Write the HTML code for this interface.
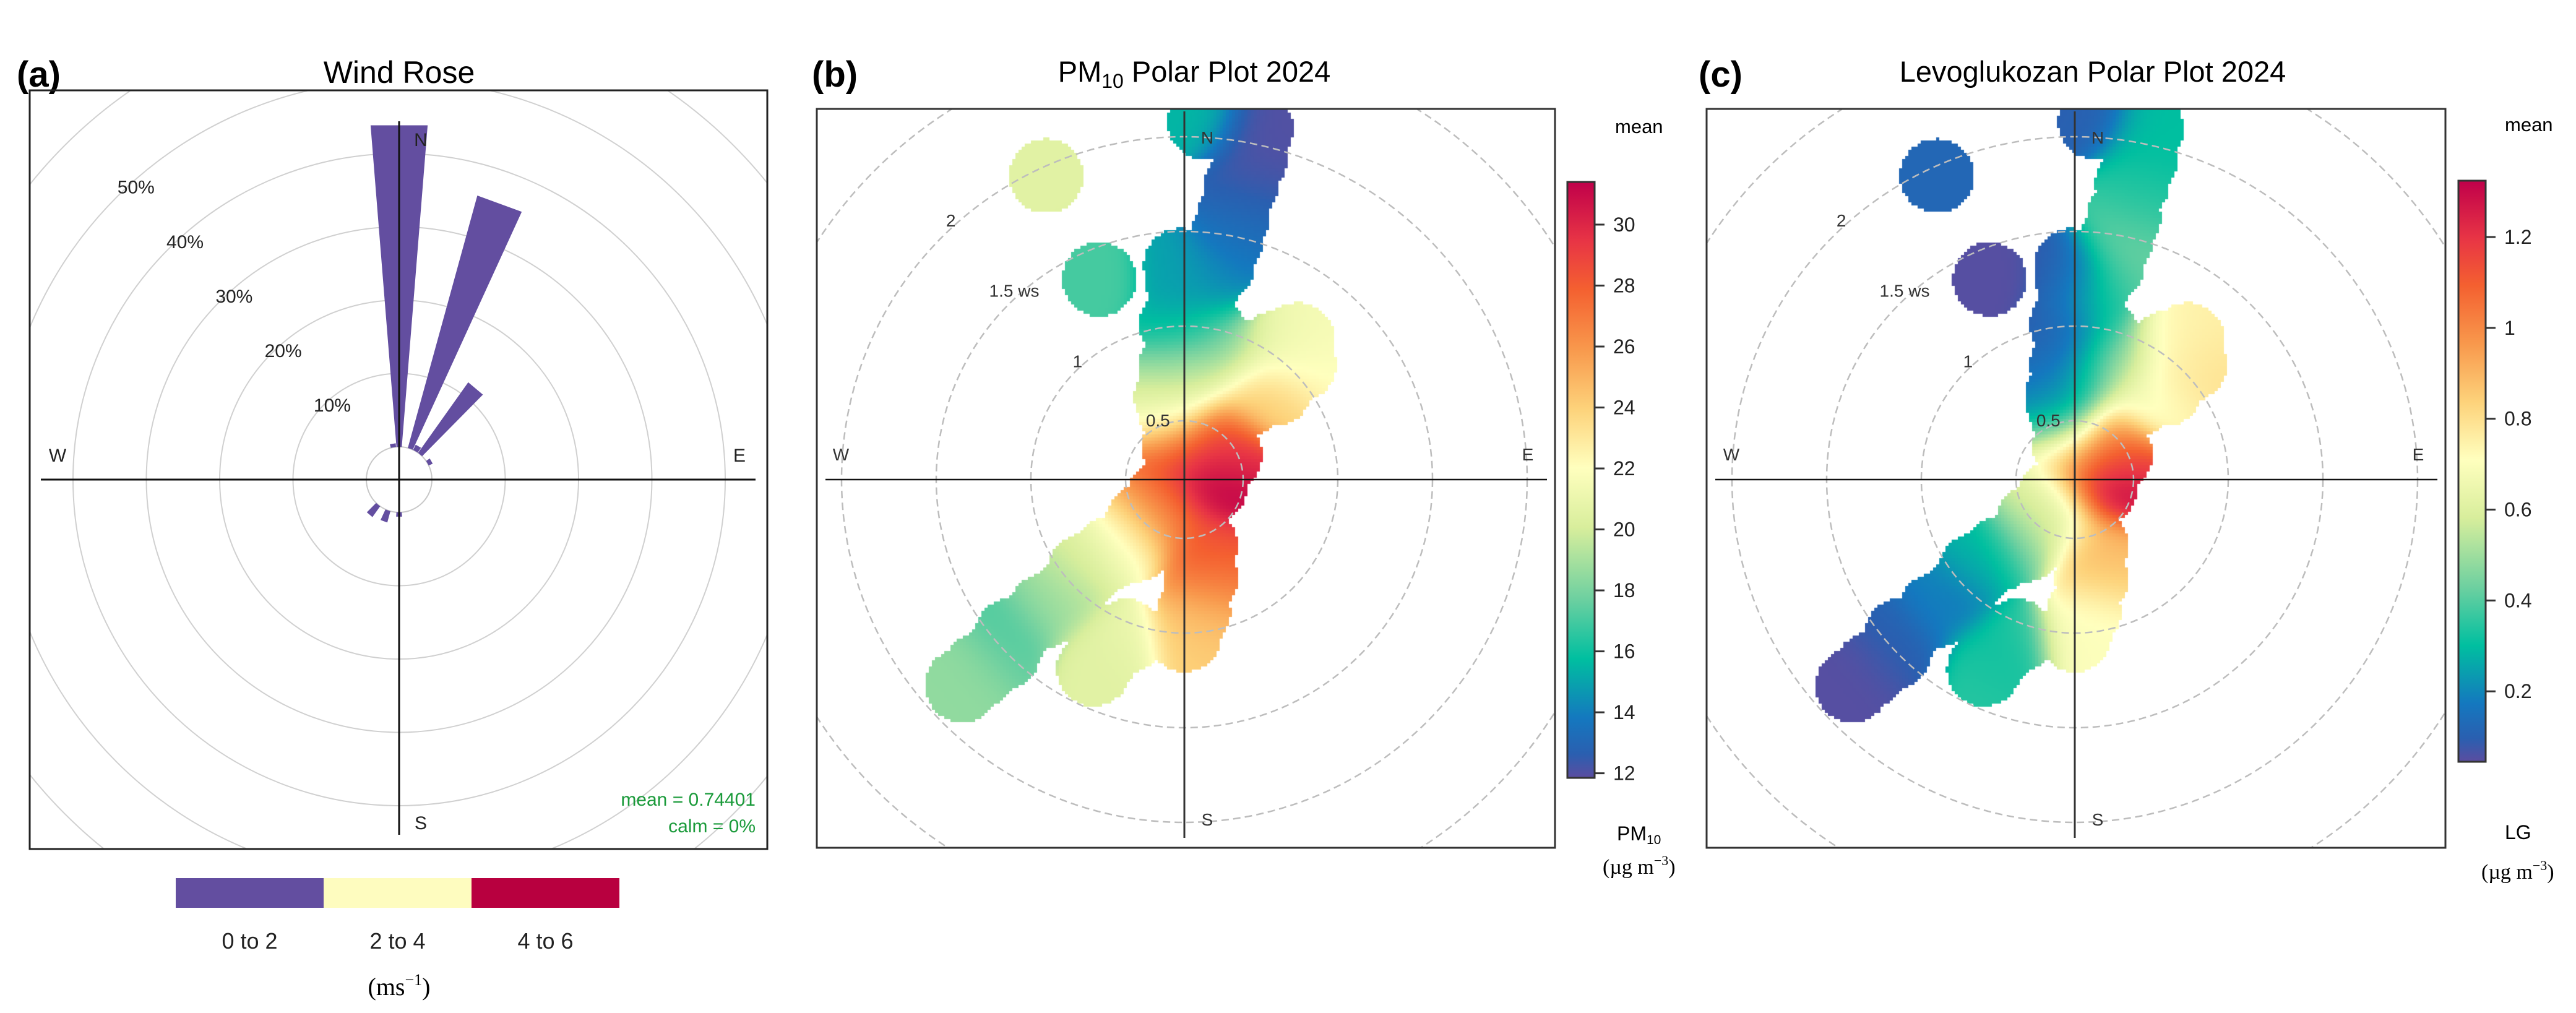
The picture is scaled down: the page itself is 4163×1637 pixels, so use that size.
<!DOCTYPE html>
<html><head><meta charset="utf-8">
<style>
html,body{margin:0;padding:0;background:#fff;}
#root{position:relative;width:4163px;height:1637px;overflow:hidden;background:#fff;font-family:"Liberation Sans",sans-serif;}
canvas{position:absolute;left:0;top:0;}
svg{position:absolute;left:0;top:0;}
</style></head>
<body>
<div id="root">
<canvas id="heat" width="4163" height="1637"></canvas>
<svg id="svg" width="4163" height="1637" xmlns="http://www.w3.org/2000/svg">
<defs>
<linearGradient id="gradB" x1="0" y1="1" x2="0" y2="0"></linearGradient>
<linearGradient id="gradC" x1="0" y1="1" x2="0" y2="0"></linearGradient>
<clipPath id="clipA"><rect x="48" y="146" width="1192" height="1226"/></clipPath>
<clipPath id="clipB"><rect x="1320" y="176" width="1193" height="1194"/></clipPath>
<clipPath id="clipC"><rect x="2758" y="176" width="1194" height="1194"/></clipPath>
</defs>
<text x="27" y="140" font-size="58" font-weight="bold">(a)</text>
<text x="645" y="134" font-size="50" text-anchor="middle">Wind Rose</text>
<text x="1312" y="140" font-size="58" font-weight="bold">(b)</text>
<text x="1930" y="132" font-size="47" text-anchor="middle">PM<tspan font-size="32" dy="10">10</tspan><tspan dy="-10"> Polar Plot 2024</tspan></text>
<text x="2745" y="140" font-size="58" font-weight="bold">(c)</text>
<text x="3382" y="132" font-size="47" text-anchor="middle">Levoglukozan Polar Plot 2024</text>

<g id="gA" clip-path="url(#clipA)"></g>
<rect x="48" y="146" width="1192" height="1226" fill="none" stroke="#222" stroke-width="3"/>
<g id="gB" clip-path="url(#clipB)"></g>
<rect x="1320" y="176" width="1193" height="1194" fill="none" stroke="#333" stroke-width="3"/>
<g id="gC" clip-path="url(#clipC)"></g>
<rect x="2758" y="176" width="1194" height="1194" fill="none" stroke="#333" stroke-width="3"/>

<text x="1221" y="1302" font-size="30" fill="#1a9a3a" text-anchor="end">mean = 0.74401</text>
<text x="1221" y="1345" font-size="30" fill="#1a9a3a" text-anchor="end">calm = 0%</text>
<g id="legA"></g>
<text x="645" y="1608" font-size="40" text-anchor="middle" font-family="Liberation Serif, serif">(ms<tspan font-size="26" dy="-16">−1</tspan><tspan dy="16">)</tspan></text>

<g id="cbB"></g>
<text x="2610" y="215" font-size="31">mean</text>
<text x="2613" y="1358" font-size="32">PM<tspan font-size="21" dy="6">10</tspan></text>
<text x="2590" y="1412" font-size="34" font-family="Liberation Serif, serif">(µg m<tspan font-size="22" dy="-14">−3</tspan><tspan dy="14">)</tspan></text>
<g id="cbC"></g>
<text x="4048" y="212" font-size="31">mean</text>
<text x="4048" y="1356" font-size="32">LG</text>
<text x="4010" y="1420" font-size="34" font-family="Liberation Serif, serif">(µg m<tspan font-size="22" dy="-14">−3</tspan><tspan dy="14">)</tspan></text>
</svg>
</div>
<script>
// ---------- Wind rose data ----------
const wrDir = [0, 20, 30, 40, 60, 350, 180, 200, 220];
const wrPct = [44, 35.7, 0.8, 11.8, 0.6, 0.5, 0.6, 1.6, 1.8];
const wrRings = [10, 20, 30, 40, 50, 60];
const wrRingLabels = ["10%", "20%", "30%", "40%", "50%"];
const speedBins = ["0 to 2", "2 to 4", "4 to 6"];
const speedColors = ["#634ea0", "#fefcbf", "#b8003f"];

// ---------- Polar plot data (direction deg, wind speed, concentration) ----------
const polDir = [335.6, 337, 3.2, 11.6, 11, 9.8, 5, 357, 356, 34.5, 38.7, 33.7, 26.6, 108, 230, 166, 176, 225, 225, 225, 228, 227, 205, 353, 351, 359, 39,
  11.6, 10.6, 8.7, 359.5, 9.5, 21.8, 9.5, 351, 45, 45, 59, 202, 217, 227.5, 226.7, 226.3, 227.2, 200.2, 205.6, 170.5, 180];
const polWs  = [1.95, 1.34, 2.08, 2.08, 1.78, 1.47, 1.19, 1.01, 0.80, 1.03, 0.745, 0.5, 0.29, 0.33, 0.33, 0.55, 0.89, 0.5, 0.74, 1.05, 1.42, 1.66, 1.2, 0.54, 0.37, 1.32, 1.14,
  1.915, 1.60, 1.33, 1.23, 0.98, 0.89, 0.717, 0.63, 0.864, 1.05, 0.44, 0.42, 0.62, 0.90, 1.20, 1.51, 1.79, 1.07, 1.30, 0.72, 1.01];
const pmVal  = [20.5, 17, 15.5, 12, 12.5, 13.5, 14.5, 15.5, 18, 20.5, 24, 28, 31, 31.5, 28, 28.5, 25, 24, 21, 19, 17, 18.5, 20.5, 22, 26, 15, 21.5,
  12, 13, 14, 15, 17, 19, 20, 20, 24, 22, 30, 27, 22, 20, 18.5, 17.5, 18.5, 21, 20.5, 27, 24];
const lgVal  = [0.12, 0.05, 0.1, 0.3, 0.35, 0.45, 0.4, 0.1, 0.12, 0.7, 0.65, 0.9, 1.15, 1.32, 0.65, 0.9, 0.7, 0.55, 0.25, 0.15, 0.1, 0.05, 0.3, 0.3, 0.6, 0.08, 0.75,
  0.3, 0.35, 0.4, 0.08, 0.3, 0.5, 0.45, 0.15, 0.75, 0.8, 1.2, 0.6, 0.5, 0.3, 0.2, 0.1, 0.05, 0.35, 0.35, 0.85, 0.7];
const wsRings = [0.5, 1, 1.5, 2, 2.5];
const wsRingLabels = ["0.5", "1", "1.5 ws", "2"];
const pmTicks = [12, 14, 16, 18, 20, 22, 24, 26, 28, 30];
const lgTicks = [0.2, 0.4, 0.6, 0.8, 1, 1.2];
const pmRange = [11.85, 31.4];
const lgRange = [0.045, 1.324];

const NS = "http://www.w3.org/2000/svg";
function mk(tag, attrs, parent){const e=document.createElementNS(NS,tag);for(const k in attrs)e.setAttribute(k,attrs[k]);parent.appendChild(e);return e;}
const rad = d => d*Math.PI/180;

// ---------- Panel A ----------
const A = {cx:645, cy:775};
const rA = p => 53 + p*11.85;
const gA = document.getElementById('gA');
wrRings.forEach(p=>{
  const c = mk('circle',{cx:A.cx,cy:A.cy,r:rA(p),fill:'none',stroke:'#d0d0d0','stroke-width':2},gA);
  
  
});
const calm = mk('circle',{cx:A.cx,cy:A.cy,r:rA(0),fill:'none',stroke:'#c8c8c8','stroke-width':2},gA);


wrDir.forEach((d,i)=>{
  const r0=rA(0), r1=rA(wrPct[i]), a0=rad(d-4.6), a1=rad(d+4.6);
  const pts=[[r0,a0],[r1,a0],[r1,a1],[r0,a1]].map(([r,a])=>(A.cx+r*Math.sin(a)).toFixed(1)+','+(A.cy-r*Math.cos(a)).toFixed(1)).join(' ');
  const p = mk('polygon',{points:pts,fill:speedColors[0]},gA);
  
  
});
wrRingLabels.forEach((t,i)=>{
  const r=rA(wrRings[i])-10, a=rad(-42);
  const tx = mk('text',{x:A.cx+r*Math.sin(a),y:A.cy-r*Math.cos(a)+10,'font-size':30,'text-anchor':'middle',fill:'#222'},gA);
  tx.textContent=t;
  
  
});
mk('line',{x1:A.cx,y1:196,x2:A.cx,y2:1349,stroke:'#111','stroke-width':3},gA);
mk('line',{x1:66,y1:A.cy,x2:1221,y2:A.cy,stroke:'#111','stroke-width':3},gA);
[['N',680,236],['E',1195,746],['W',93,746],['S',680,1340]].forEach(([t,x,y])=>{
  const tx=mk('text',{x:x,y:y,'font-size':30,'text-anchor':'middle',fill:'#222'},gA);tx.textContent=t;
  
  
});
const legA=document.getElementById('legA');
speedBins.forEach((t,i)=>{
  const w=239, x=284+i*w;
  const r=mk('rect',{x:x,y:1419,width:w,height:48,fill:speedColors[i]},legA);
  
  
  const tx=mk('text',{x:x+w/2,y:1533,'font-size':36,'text-anchor':'middle',fill:'#222'},legA);tx.textContent=t;
  
  
});

// ---------- colormap ----------
const stops=[[0,'#5b4da0'],[0.04,'#2a5fb0'],[0.1,'#1478bf'],[0.2,'#00bfa0'],[0.3,'#6dd0a0'],[0.42,'#d8ee9c'],[0.52,'#ffffbe'],[0.62,'#fdd27a'],[0.72,'#f8984c'],[0.82,'#f46030'],[0.9,'#e83545'],[1,'#c0004a']];
const hex=h=>[parseInt(h.slice(1,3),16),parseInt(h.slice(3,5),16),parseInt(h.slice(5,7),16)];
function cmap(t){t=Math.max(0,Math.min(1,t));for(let i=1;i<stops.length;i++){if(t<=stops[i][0]){const a=stops[i-1],b=stops[i],f=(t-a[0])/(b[0]-a[0]);const ca=hex(a[1]),cb=hex(b[1]);return ca.map((v,k)=>Math.round(v+(cb[k]-v)*f));}}return hex(stops[stops.length-1][1]);}
['gradB','gradC'].forEach(id=>{const g=document.getElementById(id);stops.forEach(([o,c])=>mk('stop',{offset:o,'stop-color':c},g));});

// ---------- Polar plots ----------
const rW = ws => 95 + (ws-0.5)*306;
const ctx=document.getElementById('heat').getContext('2d');
function polar(gid, cx, cy, box, vals, range){
  const g=document.getElementById(gid);
  const px=polDir.map((d,i)=>cx+rW(polWs[i])*Math.sin(rad(d)));
  const py=polDir.map((d,i)=>cy-rW(polWs[i])*Math.cos(rad(d)));
  const step=5, R=60, s2=2*36*36;
  for(let x=box[0];x<box[2];x+=step){for(let y=box[1];y<box[3];y+=step){
    let mind=1e9,sw=0,sv=0;
    for(let i=0;i<px.length;i++){const dx=x+step/2-px[i],dy=y+step/2-py[i];const d2=dx*dx+dy*dy;const d=Math.sqrt(d2);if(d<mind)mind=d;const w=Math.exp(-d2/s2)+1e-12;sw+=w;sv+=w*vals[i];}
    if(mind>R)continue;
    const c=cmap((sv/sw-range[0])/(range[1]-range[0]));
    ctx.fillStyle='rgb('+c.join(',')+')';ctx.fillRect(x,y,step,step);
  }}
  wsRings.forEach(ws=>{
    const c=mk('circle',{cx:cx,cy:cy,r:rW(ws),fill:'none',stroke:'#bdbdbd','stroke-width':2.5,'stroke-dasharray':'12 7'},g);
    
    
  });
  wsRingLabels.forEach((t,i)=>{
    const r=rW(wsRings[i])+10, a=rad(i==0?-24:-42);
    const tx=mk('text',{x:cx+r*Math.sin(a),y:cy-r*Math.cos(a)+10,'font-size':28,'text-anchor':'middle',fill:'#333'},g);tx.textContent=t;
    
    
  });
  mk('line',{x1:cx,y1:180,x2:cx,y2:1354,stroke:'#333','stroke-width':3},g);
  mk('line',{x1:box[0]+13,y1:cy,x2:box[2]-12,y2:cy,stroke:'#111','stroke-width':2.5},g);
  [['N',cx+37,232],['E',cx+555,744],['W',cx-555,744],['S',cx+37,1334]].forEach(([t,x,y])=>{
    const tx=mk('text',{x:x,y:y,'font-size':28,'text-anchor':'middle',fill:'#333'},g);tx.textContent=t;
    
    
  });
}
polar('gB',1914,775,[1321,177,2512,1369],pmVal,pmRange);
polar('gC',3353,775,[2759,177,3951,1369],lgVal,lgRange);

function colorbar(gid, grad, x, top, bot, range, ticks){
  const g=document.getElementById(gid);
  const y=v=>bot-(v-range[0])/(range[1]-range[0])*(bot-top);
  const r=mk('rect',{x:x,y:top,width:44,height:bot-top,fill:'url(#'+grad+')',stroke:'#333','stroke-width':3},g);
  
  
  ticks.forEach(v=>{
    const l=mk('line',{x1:x+44,y1:y(v),x2:x+60,y2:y(v),stroke:'#333','stroke-width':3},g);
    
    
    const tx=mk('text',{x:x+74,y:y(v)+11,'font-size':32,fill:'#222'},g);tx.textContent=String(v);
    
    
  });
}
colorbar('cbB','gradB',2533,294,1257,pmRange,pmTicks);
colorbar('cbC','gradC',3973,292,1231,lgRange,lgTicks);
</script>
</body></html>
